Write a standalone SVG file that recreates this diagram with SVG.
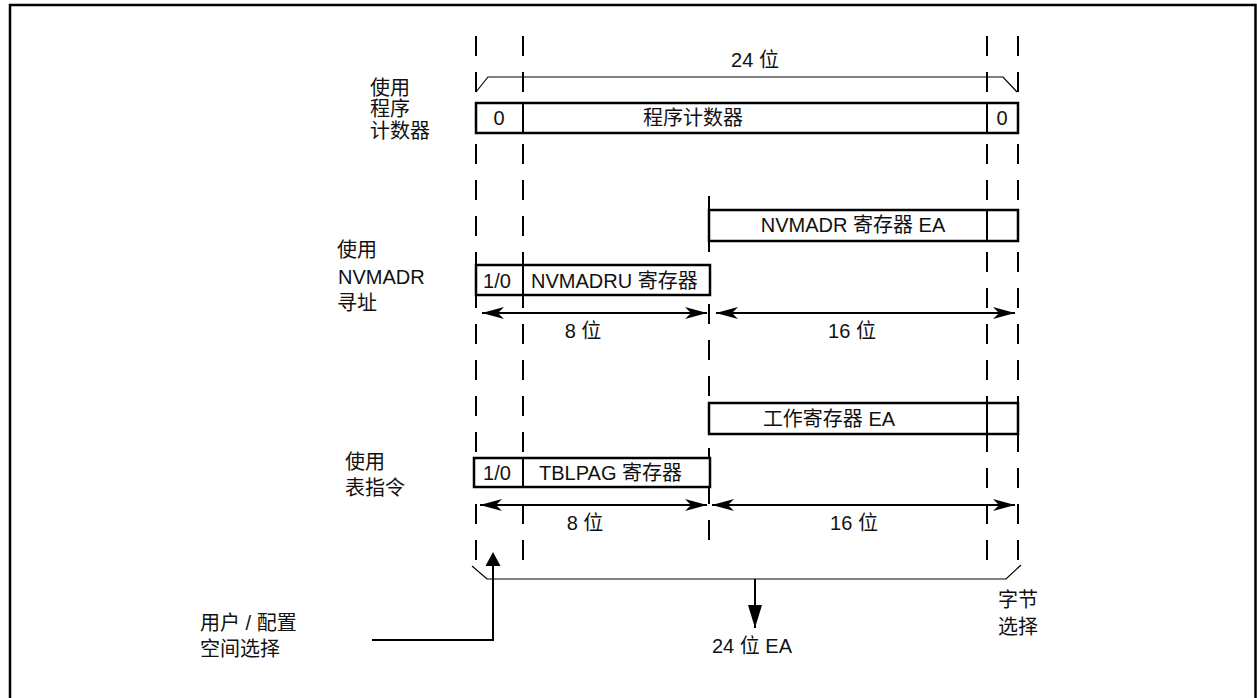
<svg xmlns="http://www.w3.org/2000/svg" width="1257" height="698" viewBox="0 0 1257 698">
<style>
text{font-family:"Liberation Sans","Noto Sans CJK SC",sans-serif;font-size:20px;fill:#111}
.c{text-anchor:middle}
.box{fill:#fff;stroke:#000;stroke-width:2.5}
.div{stroke:#000;stroke-width:2}
.dash{stroke:#000;stroke-width:2;stroke-dasharray:20 16;fill:none}
.thin{stroke:#000;stroke-width:1.2;fill:none}
.arr{stroke:#000;stroke-width:2;fill:none}
</style>
<defs>
<marker id="ah" markerWidth="22" markerHeight="12" refX="22" refY="6" orient="auto-start-reverse" markerUnits="userSpaceOnUse">
<path d="M0,0 L22,6 L0,12 L6,6 Z" fill="#000"/>
</marker>
<marker id="ad" markerWidth="14" markerHeight="23" refX="7" refY="23" orient="0" markerUnits="userSpaceOnUse">
<path d="M0,0 L7,23 L14,0 Z" fill="#000"/>
</marker>
</defs>
<rect x="10" y="5" width="1245.5" height="700" fill="none" stroke="#000" stroke-width="2.5"/>
<g id="guides">
<line class="dash" x1="476" y1="36" x2="476" y2="560"/>
<line class="dash" x1="523" y1="36" x2="523" y2="560"/>
<line class="dash" x1="709" y1="196" x2="709" y2="542"/>
<line class="dash" x1="987" y1="36" x2="987" y2="560"/>
<line class="dash" x1="1018" y1="36" x2="1018" y2="560"/>
</g>
<g id="pc-row">
<rect class="box" x="476" y="103" width="542" height="30"/>
<line class="div" x1="523" y1="103" x2="523" y2="133"/>
<line class="div" x1="987" y1="103" x2="987" y2="133"/>
<text class="c" x="499" y="125">0</text>
<text class="c" x="693" y="125">程序计数器</text>
<text class="c" x="1002" y="125">0</text>
</g>
<g id="label-pc">
<text x="370" y="95">使用</text>
<text x="370" y="116">程序</text>
<text x="370" y="138">计数器</text>
</g>
<g id="nvmadr-row">
<rect class="box" x="709" y="210" width="309" height="31"/>
<line class="div" x1="987" y1="210" x2="987" y2="241"/>
<text class="c" x="853" y="232">NVMADR 寄存器 EA</text>
</g>
<g id="nvmadru-row">
<rect class="box" x="476" y="265" width="234" height="30"/>
<line class="div" x1="523" y1="265" x2="523" y2="295"/>
<text class="c" x="497" y="288">1/0</text>
<text x="531" y="288">NVMADRU 寄存器</text>
</g>
<g id="label-nvmadr">
<text x="337" y="257">使用</text>
<text x="338" y="284">NVMADR</text>
<text x="337" y="310">寻址</text>
</g>
<g id="w-row">
<rect class="box" x="709" y="403" width="309" height="31"/>
<line class="div" x1="987" y1="403" x2="987" y2="434"/>
<text class="c" x="829" y="426">工作寄存器 EA</text>
</g>
<g id="tblpag-row">
<rect class="box" x="474" y="458" width="236" height="29"/>
<line class="div" x1="523" y1="458" x2="523" y2="487"/>
<text class="c" x="497" y="480">1/0</text>
<text x="539" y="480">TBLPAG 寄存器</text>
</g>
<g id="label-table">
<text x="345" y="469">使用</text>
<text x="345" y="495">表指令</text>
</g>
<g id="label-user">
<text x="200" y="630">用户 / 配置</text>
<text x="200" y="656">空间选择</text>
</g>
<g id="label-byte">
<text x="998" y="607">字节</text>
<text x="998" y="634">选择</text>
</g>
<g id="labels-bits">
<text class="c" x="755" y="67">24 位</text>
<text class="c" x="583" y="338">8 位</text>
<text class="c" x="852" y="338">16 位</text>
<text class="c" x="585" y="530">8 位</text>
<text class="c" x="854" y="530">16 位</text>
<text class="c" x="752" y="653">24 位 EA</text>
</g>
<g id="connectors">
<path class="thin" d="M476,92 L488,77 H1003 L1017,92"/>
<path class="thin" d="M472,566 L487,579 H1006 L1021,565"/>
<line class="arr" x1="482" y1="313" x2="707" y2="313" marker-start="url(#ah)" marker-end="url(#ah)"/>
<line class="arr" x1="716" y1="313" x2="1015" y2="313" marker-start="url(#ah)" marker-end="url(#ah)"/>
<line class="arr" x1="480" y1="505" x2="707" y2="505" marker-start="url(#ah)" marker-end="url(#ah)"/>
<line class="arr" x1="712" y1="505" x2="1015" y2="505" marker-start="url(#ah)" marker-end="url(#ah)"/>
<line class="arr" x1="755" y1="579" x2="755" y2="628" marker-end="url(#ad)"/>
<path class="arr" d="M372,640 H493 V566"/>
<path d="M493,552 L500.5,566 L485.5,566 Z" fill="#000"/>
</g>
</svg>
